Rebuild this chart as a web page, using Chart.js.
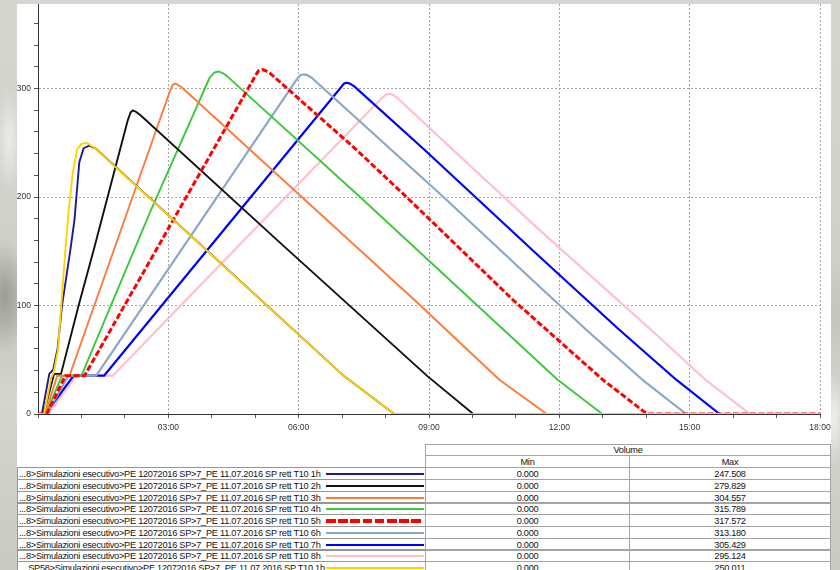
<!DOCTYPE html>
<html>
<head>
<meta charset="utf-8">
<script src="https://cdn.jsdelivr.net/npm/chart.js@4/dist/chart.umd.min.js"></script>
<style>
  html, body { margin: 0; padding: 0; width: 840px; height: 570px; overflow: hidden; }
  body {
    position: relative;
    font-family: "Liberation Sans", Arial, sans-serif;
    background:
      radial-gradient(ellipse 30px 70px at 5px 295px, rgba(120,120,112,.55), transparent 80%),
      radial-gradient(ellipse 18px 70px at 9px 140px, rgba(255,255,255,.55), transparent 75%),
      radial-gradient(ellipse 16px 60px at 834px 420px, rgba(255,255,255,.6), transparent 75%),
      linear-gradient(180deg, #d6d6d0 0%, #cfd0ca 45%, #c4c5bf 55%, #d5d5cf 70%, #cacac4 100%);
  }
  #panel { position: absolute; left: 17px; top: 4px; width: 814px; height: 570px; background: #fff; }
  #plot { position: absolute; left: 0; top: 0; }
  .cell {
    position: absolute; box-sizing: border-box; border: 1px solid #a4a4a4;
    font-size: 9.2px; letter-spacing: -0.25px; color: #111; white-space: nowrap; overflow: hidden;
    display: flex; align-items: center;
  }
  .center { justify-content: center; }
  .name { padding-left: 1px; border-color: #959595; }
  .swatch { position: absolute; }
</style>
</head>
<body>
<div id="panel"></div>
<canvas id="plot" width="840" height="440"></canvas>
<div id="table"></div>
<script>
// Series names (legend column of the table)
const seriesLabels = [
  '...8>Simulazioni esecutivo>PE 12072016 SP>7_PE 11.07.2016 SP rett T10 1h',
  '...8>Simulazioni esecutivo>PE 12072016 SP>7_PE 11.07.2016 SP rett T10 2h',
  '...8>Simulazioni esecutivo>PE 12072016 SP>7_PE 11.07.2016 SP rett T10 3h',
  '...8>Simulazioni esecutivo>PE 12072016 SP>7_PE 11.07.2016 SP rett T10 4h',
  '...8>Simulazioni esecutivo>PE 12072016 SP>7_PE 11.07.2016 SP rett T10 5h',
  '...8>Simulazioni esecutivo>PE 12072016 SP>7_PE 11.07.2016 SP rett T10 6h',
  '...8>Simulazioni esecutivo>PE 12072016 SP>7_PE 11.07.2016 SP rett T10 7h',
  '...8>Simulazioni esecutivo>PE 12072016 SP>7_PE 11.07.2016 SP rett T10 8h',
  '... SP58>Simulazioni esecutivo>PE 12072016 SP>7_PE 11.07.2016 SP T10 1h'
];
const seriesColors = ['#1c1c90', '#111111', '#ff7a3a', '#3cc83c', '#ff0000', '#8aa8c6', '#0000ff', '#ffc0cb', '#ffd200'];

// Time (hours from start) and stored volume for each simulation
const hours1h = [0, 0.09, 0.26, 0.35, 0.45, 0.553, 0.744, 0.84, 0.95, 1.05, 1.18, 1.32, 7.05, 8.2, 18];
const volume1h = [0, 0, 37, 41, 60, 100, 151, 179, 232, 245, 247.508, 245, 34.7, 0, 0];

const hours2h = [0, 0.13, 0.37, 0.53, 0.935, 1.28, 2.06, 2.13, 2.18, 2.26, 2.36, 5.556, 8.97, 10.02, 18];
const volume2h = [0, 0, 37, 37, 100, 151, 270, 278, 279.829, 278.5, 275.5, 158.5, 34.7, 0, 0];

const hours3h = [0, 0.17, 0.44, 0.725, 3.04, 3.1, 3.15, 3.21, 3.3, 8.66, 10.62, 11.71, 18];
const volume3h = [0, 0, 35.3, 35.3, 298, 303.5, 304.557, 303.8, 301.5, 105.3, 31.6, 0, 0];

const hours4h = [0, 0.18, 0.55, 1.0, 2.6, 3.95, 4.05, 4.15, 4.25, 4.35, 7.4, 9.97, 11.96, 12.99, 18];
const volume4h = [0, 0, 35.3, 35.3, 188, 310, 314.6, 315.789, 314.3, 311.5, 200.5, 105.3, 31.6, 0, 0];

const hours5h = [0, 0.2, 0.63, 1.07, 4.95, 5.07, 5.16, 5.24, 5.35, 7.33, 8.47, 10.93, 13.0, 14.02, 18];
const volume5h = [0, 0, 35.3, 35.3, 308, 316.3, 317.572, 316.5, 313.8, 243.6, 200.5, 105.3, 31.6, 0, 0];

const hours6h = [0, 0.2, 0.7, 1.34, 5.92, 6.04, 6.12, 6.2, 6.3, 8.13, 9.32, 11.54, 12.62, 13.9, 14.92, 18];
const volume6h = [0, 0, 35.3, 35.3, 306.5, 312.3, 313.18, 312.4, 310, 243.6, 200.5, 117.6, 77.7, 32, 0, 0];

const hours7h = [0, 0.17, 0.82, 1.52, 6.97, 7.04, 7.11, 7.18, 7.28, 8.895, 11.54, 13.38, 14.69, 15.69, 18];
const volume7h = [0, 0, 35.3, 35.3, 301, 304.6, 305.429, 304.6, 302, 243.6, 145.2, 77.7, 31.6, 0, 0];

const hours8h = [0, 0.24, 0.88, 1.72, 7.93, 8.02, 8.09, 8.16, 8.26, 9.55, 11.54, 14.11, 15.35, 16.39, 18];
const volume8h = [0, 0, 35.3, 35.3, 292, 294.5, 295.124, 294.3, 291.8, 243.6, 169.8, 77.7, 32, 0, 0];

const hoursSP58 = [0, 0.14, 0.3, 0.36, 0.46, 0.535, 0.63, 0.7, 0.8, 0.9, 1.0, 1.12, 1.3, 7.05, 8.2, 18];
const volumeSP58 = [0, 0, 33, 38, 59, 100, 151, 185, 222, 244, 249, 250.011, 245.5, 34.7, 0, 0];

const seriesHours = [hours1h, hours2h, hours3h, hours4h, hours5h, hours6h, hours7h, hours8h, hoursSP58];
const seriesVolumes = [volume1h, volume2h, volume3h, volume4h, volume5h, volume6h, volume7h, volume8h, volumeSP58];

const tableHeader = 'Volume';
const columnNames = ['Min', 'Max'];

const FONT = '"Liberation Sans", Arial, sans-serif';
const gridDash = [2, 2];

const datasets = seriesHours.map((hrs, i) => {
  const dashed = i === 4;
  return {
    label: seriesLabels[i],
    data: hrs.map((h, k) => ({ x: h, y: seriesVolumes[i][k] })),
    borderColor: seriesColors[i],
    backgroundColor: seriesColors[i],
    borderWidth: dashed ? 3 : (i === 6 || i === 5 || i === 7 ? 2.2 : 1.9),
    borderDash: dashed ? [6, 2.5] : [],
    borderJoinStyle: 'round',
    pointRadius: 0,
    fill: false,
    tension: 0,
    order: i === 8 ? -2 : (dashed ? -1 : i)
  };
});

new Chart(document.getElementById('plot'), {
  type: 'line',
  data: { datasets },
  options: {
    responsive: false,
    animation: false,
    layout: { padding: { left: 0, top: 4, right: 20, bottom: 0 } },
    plugins: { legend: { display: false }, tooltip: { enabled: false } },
    scales: {
      x: {
        type: 'linear', min: 0, max: 18,
        afterFit: s => { s.height = 26; },
        ticks: {
          stepSize: 1, autoSkip: false, maxRotation: 0, padding: 5, color: '#333',
          font: { family: FONT, size: 8.5 },
          callback: v => (v % 3 === 0 && v > 0) ? String(v).padStart(2, '0') + ':00' : ''
        },
        grid: {
          color: c => (c.tick && c.tick.value % 3 === 0 && c.tick.value > 0) ? '#a6a6a6' : 'rgba(0,0,0,0)',
          tickColor: '#555', tickLength: 4, lineWidth: 1
        },
        border: { display: true, color: '#333', width: 1, dash: c => c.type === 'tick' ? gridDash : [] }
      },
      y: {
        type: 'linear', min: 0, max: 378,
        afterFit: s => { s.width = 38; s.paddingTop = 0; s.paddingBottom = 0; },
        ticks: {
          stepSize: 20, includeBounds: false, padding: 3, color: '#333',
          font: { family: FONT, size: 8.5 },
          callback: v => v % 100 === 0 ? String(v) : ''
        },
        grid: {
          color: c => (c.tick && c.tick.value % 100 === 0 && c.tick.value > 0) ? '#a6a6a6' : 'rgba(0,0,0,0)',
          tickColor: '#555', tickLength: 4, lineWidth: 1
        },
        border: { display: true, color: '#333', width: 1, dash: c => c.type === 'tick' ? gridDash : [] }
      }
    }
  }
});

// Summary table: legend rows with line samples, and min / max of each series
const table = document.getElementById('table');
function cell(cls, x, y, w, h, text) {
  const d = document.createElement('div');
  d.className = 'cell ' + cls;
  d.style.left = x + 'px'; d.style.top = y + 'px';
  d.style.width = w + 'px'; d.style.height = h + 'px';
  if (text !== undefined) d.textContent = text;
  table.appendChild(d);
  return d;
}
const colName = 17, colMin = 425, colMax = 629, colEnd = 831;
cell('center', colMin, 444, colEnd - colMin, 12, tableHeader);
cell('center', colMin, 455, colMax - colMin + 1, 13, columnNames[0]);
cell('center', colMax, 455, colEnd - colMax, 13, columnNames[1]);

seriesLabels.forEach((name, i) => {
  const top = Math.round(467.3 + i * 11.7);
  const h = 13;
  cell('name', colName, top, colMin - colName + 1, h, name);
  const vals = seriesVolumes[i];
  cell('center', colMin, top, colMax - colMin + 1, h, Math.min(...vals).toFixed(3));
  cell('center', colMax, top, colEnd - colMax, h, Math.max(...vals).toFixed(3));
  const sw = document.createElement('div');
  sw.className = 'swatch';
  const dashed = i === 4;
  const thick = dashed ? 4 : 2;
  sw.style.left = '326px';
  sw.style.width = '98px';
  sw.style.top = (top + 6.5 - thick / 2) + 'px';
  sw.style.height = thick + 'px';
  sw.style.background = dashed
    ? 'repeating-linear-gradient(90deg, ' + seriesColors[i] + ' 0 9.5px, transparent 9.5px 12.2px)'
    : seriesColors[i];
  table.appendChild(sw);
});
</script>
</body>
</html>
